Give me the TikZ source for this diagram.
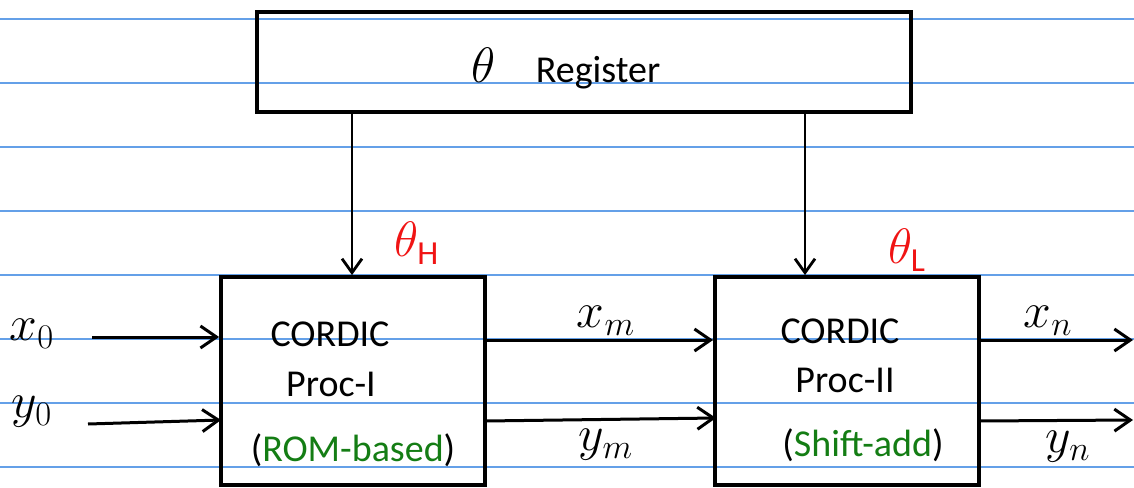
\documentclass[tikz,border=0pt]{standalone}
\usepackage{fontspec}
\setmainfont{Carlito}
\usetikzlibrary{arrows.meta,calc}
\definecolor{rulecol}{RGB}{100,160,232}
\definecolor{hgreen}{RGB}{20,125,20}
\definecolor{hred}{RGB}{240,20,20}
\begin{document}
\begin{tikzpicture}[x=0.5pt,y=-0.5pt,
  blk/.style={draw,line width=1.9pt,inner sep=0pt},
  arr/.style={line width=1.5pt,-{Straight Barb[length=8pt,width=11pt,line width=1.5pt]}},
  tap/.style={line width=1.2pt,-{Straight Barb[length=7pt,width=10pt,line width=1.4pt]}},
  txt/.style={font=\fontsize{19}{21}\selectfont,inner sep=0pt},
  var/.style={font=\fontsize{24}{26}\selectfont,inner sep=0pt},
  ang/.style={font=\fontsize{24}{26}\selectfont,text=hred,inner sep=0pt}]
\useasboundingbox (0,0) rectangle (1134,487);
% ruled notebook lines
\foreach \y in {19,83,...,467} \draw[rulecol,line width=1pt] (0,\y) -- (1134,\y);
% blocks
\node[blk,minimum width=327pt,minimum height=50pt] (reg) at (584,62) {};
\node[txt] (regt) at (566,68) {\fontsize{24}{26}\selectfont$\theta$\hspace{20pt}\fontsize{19}{21}\selectfont Register};
\node[blk,minimum width=132pt,minimum height=104pt] (p1) at (353,381) {};
\node[blk,minimum width=132pt,minimum height=104pt] (p2) at (847,381) {};
% block texts
\node[txt] (p1a) at (330,334) {CORDIC};
\node[txt] (p1b) at (331,384) {Proc-I};
\node[txt] (p1c) at (353,450) {(\textcolor{hgreen}{ROM-based})};
\node[txt] (p2a) at (840,331) {CORDIC};
\node[txt] (p2b) at (845,380) {Proc-II};
\node[txt] (p2c) at (863,445) {(\textcolor{hgreen}{Shift-add})};
% angle labels
\node[ang] (th) at (417,243) {$\theta_{\mathrm{H}}$};
\node[ang] (tl) at (907,250) {$\theta_{\mathrm{L}}$};
% signal labels
\node[var] (x0) at (32,334) {$x_0$};
\node[var] (y0) at (32,412) {$y_0$};
\node[var] (xm) at (606,321) {$x_m$};
\node[var] (ym) at (606,445) {$y_m$};
\node[var] (xn) at (1048,321) {$x_n$};
\node[var] (yn) at (1068,447) {$y_n$};
% coordinates for connectors
\coordinate (tapL) at (352,0);
\coordinate (tapR) at (805,0);
\coordinate (x0s) at (92,337);
\coordinate (y0s) at (88,424);
\coordinate (y0e) at (221,420);
\coordinate (xmrow) at (0,340);
\coordinate (ymS) at (485,421);
\coordinate (ymE) at (716,418);
\coordinate (xnE) at (1133,340);
\coordinate (ynS) at (979,421);
\coordinate (ynE) at (1133,420);
% connectors
\draw[tap] (reg.south -| tapL) -- (p1.north -| tapL);
\draw[tap] (reg.south -| tapR) -- (p2.north -| tapR);
\draw[arr] (x0s) -- (x0s -| p1.west);
\draw[arr] (y0s) -- (y0e);
\draw[arr] (xmrow -| p1.east) -- (xmrow -| p2.west);
\draw[arr] (ymS) -- (ymE);
\draw[arr] (xmrow -| p2.east) -- (xnE);
\draw[arr] (ynS) -- (ynE);
\end{tikzpicture}
\end{document}
